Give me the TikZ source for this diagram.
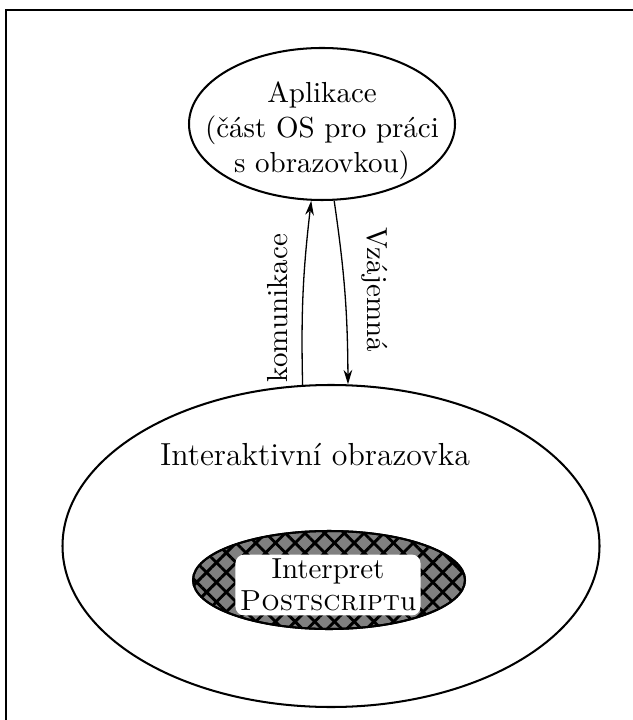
\documentclass[tikz,border=0pt]{standalone}
\usepackage{fontspec}
\usetikzlibrary{shapes.geometric,arrows.meta,patterns.meta}
\begin{document}
\begin{tikzpicture}[x=0.345pt,y=-0.345pt,
  oval/.style={draw,ellipse,line width=0.7pt,inner sep=0pt},
  txt/.style={align=center,inner sep=0pt},
  conn/.style={line width=0.45pt,-{Stealth[length=5pt,width=3pt]}},
  hatchA/.style={pattern={Lines[angle=45,distance=4.8pt,line width=1pt]}},
  hatchB/.style={pattern={Lines[angle=-45,distance=4.8pt,line width=1pt]}}]
\useasboundingbox (0,0) rectangle (632,720);
% frame
\draw[line width=0.7pt] (6,740) -- (6,10) -- (660,10);
% application ellipse
\node[oval,minimum width=266*0.345pt,minimum height=152*0.345pt] (app) at (322,124) {};
\node[txt] (apptext) at (322,131) {Aplikace\\(část OS pro práci\\s obrazovkou)};
% screen ellipse
\node[oval,minimum width=537*0.345pt,minimum height=322*0.345pt] (screen) at (331,546) {};
\node[txt,font=\fontsize{11}{13}\selectfont] (screentext) at (315,455) {Interaktivní obrazovka};
% PostScript interpreter
\node[oval,fill=gray,minimum width=272*0.345pt,minimum height=98*0.345pt] (ps) at (329,580) {};
\fill[hatchA] (ps.center) ellipse[x radius=136,y radius=49];
\fill[hatchB] (ps.center) ellipse[x radius=136,y radius=49];
\draw[line width=0.7pt] (ps.center) ellipse[x radius=136,y radius=49];
\node[txt,fill=white,rounded corners=3pt,inner xsep=1.5pt,inner ysep=1.5pt,font=\fontsize{10}{11}\selectfont] (interp) at (328,585) {Interpret\\\textsc{Postscript}u};
% connectors
\draw[conn] (screen.100) to[bend left=4] (app.262);
\draw[conn] (app.279) to[bend left=4] (screen.84);
\node[txt,rotate=90] (lab1) at (278,308) {komunikace};
\node[txt,rotate=-90] (lab2) at (375,290) {Vzájemná};
\end{tikzpicture}
\end{document}
